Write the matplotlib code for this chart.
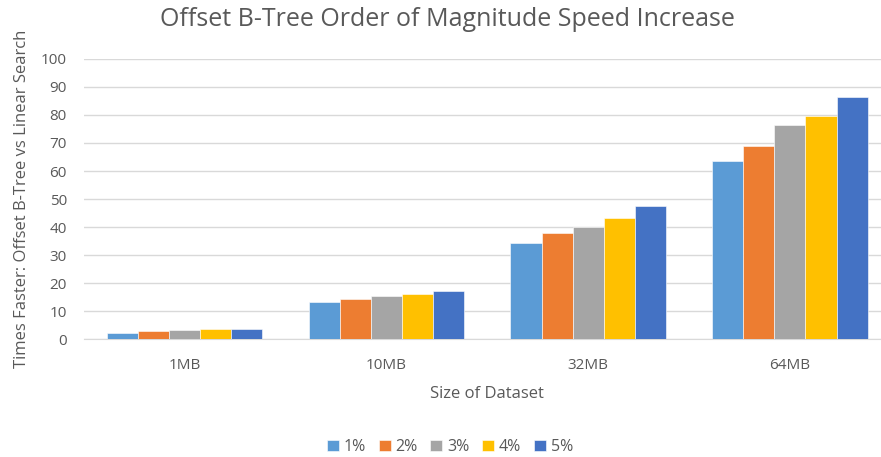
import matplotlib
matplotlib.use("Agg")
import matplotlib.pyplot as plt
import numpy as np

categories = ["1MB", "10MB", "32MB", "64MB"]
series_names = ["1%", "2%", "3%", "4%", "5%"]
s1 = [2.2, 13.1, 34.3, 63.6]
s2 = [2.9, 14.4, 37.7, 69.0]
s3 = [3.3, 15.5, 39.9, 76.3]
s4 = [3.6, 16.1, 43.3, 79.8]
s5 = [3.7, 17.0, 47.4, 86.5]
series = [s1, s2, s3, s4, s5]
colors = ["#5B9BD5", "#ED7D31", "#A5A5A5", "#FFC000", "#4472C4"]
yticks = list(range(0, 101, 10))

plt.rcParams['font.family'] = ['Open Sans', 'DejaVu Sans']
fig = plt.figure(figsize=(8.81, 4.57), dpi=100)
ax = fig.add_axes([0.0949, 0.2582, 0.9163, 0.6127])

x = np.arange(len(categories))
bw = 0.154
for i, (name, vals, c) in enumerate(zip(series_names, series, colors)):
    ax.bar(x + (i - 2) * bw, vals, width=bw, color=c, label=name,
           edgecolor="#ffffff", linewidth=0.4, zorder=3)

ax.set_xlim(-0.5, len(categories) - 0.5)
ax.set_ylim(0, 100)
ax.set_yticks(yticks)
ax.set_xticks(x)
ax.set_xticklabels(categories)
ax.grid(axis="y", color="#d9d9d9", linewidth=1, zorder=0)
for s in ["top", "right", "left"]:
    ax.spines[s].set_visible(False)
ax.spines["bottom"].set_color("#d9d9d9")
ax.tick_params(axis="both", length=0, colors="#595959", labelsize=11)
ax.tick_params(axis="y", pad=12)
ax.tick_params(axis="x", pad=14)

ax.set_xlabel("Size of Dataset", fontsize=12, color="#595959", labelpad=9)
ax.set_ylabel("Times Faster: Offset B-Tree vs Linear Search", fontsize=12,
              color="#595959", labelpad=8)
fig.suptitle("Offset B-Tree Order of Magnitude Speed Increase", fontsize=18,
             color="#595959", x=0.508, y=0.985)

fig.legend(loc="center", bbox_to_anchor=(450 / 881, 0.022), ncol=5,
           frameon=False, fontsize=11.5, handlelength=0.75, handleheight=0.75,
           handletextpad=0.3, columnspacing=0.8, labelcolor="#595959")

fig.savefig("out.png", dpi=100)
